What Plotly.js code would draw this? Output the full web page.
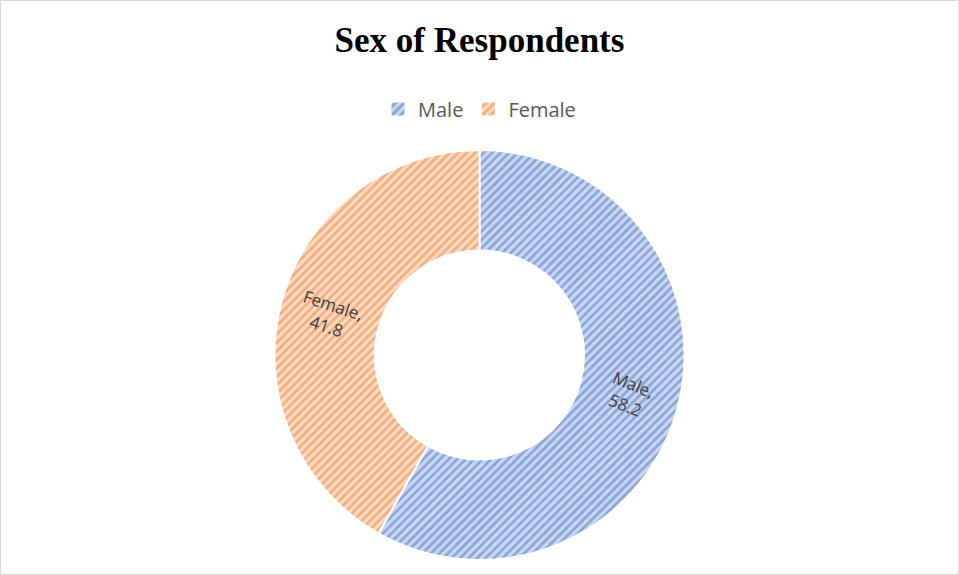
<!DOCTYPE html>
<html>
<head>
<meta charset="utf-8">
<script src="https://cdn.plot.ly/plotly-3.0.1.min.js"></script>
<style>
  html, body { margin: 0; padding: 0; background: #fff; }
  #wrap { position: relative; width: 959px; height: 575px; }
  #chart { width: 959px; height: 575px; }
  #frame { position: absolute; left: 0; top: 0; width: 957px; height: 573px; border: 1px solid #d9d9d9; pointer-events: none; }
</style>
</head>
<body>
<div id="wrap">
  <div id="chart"></div>
  <div id="frame"></div>
</div>
<script>
const categories = ["Male", "Female"];
const values = [58.2, 41.8];
const fgColors = ["#4472C4", "#ED7D31"];
const bgColors = ["#cbd7f0", "#fbdac3"];
const labelAngles = [22, 18];

const HOLE = 0.51;
const MARGIN = { l: 0, r: 0, t: 150, b: 15 };
const W = 959, H = 575;

const trace = {
  type: "pie",
  labels: categories,
  values: values,
  hole: HOLE,
  sort: false,
  direction: "clockwise",
  rotation: 0,
  textinfo: "none",
  hoverinfo: "none",
  marker: {
    colors: fgColors,
    line: { color: "#ffffff", width: 2 },
    pattern: {
      shape: "/",
      fgcolor: fgColors,
      bgcolor: bgColors,
      size: 6,
      solidity: 0.45,
      fillmode: "overlay"
    }
  },
  domain: { x: [0, 1], y: [0, 1] },
  automargin: false
};

const layout = {
  width: W,
  height: H,
  margin: MARGIN,
  paper_bgcolor: "#ffffff",
  title: {
    text: "<b>Sex of Respondents</b>",
    font: { family: "Liberation Serif, Times New Roman, serif", size: 35, color: "#000000" },
    x: 0.5, xanchor: "center",
    y: 1 - 40 / H, yanchor: "middle", yref: "container"
  },
  showlegend: true,
  legend: {
    orientation: "h",
    x: 0.5, xanchor: "center",
    y: 1 - 109 / H, yanchor: "middle", yref: "container",
    font: { family: "Open Sans, DejaVu Sans, sans-serif", size: 20, color: "#595959" },
    traceorder: "normal"
  }
};

Plotly.newPlot("chart", [trace], layout, { displayModeBar: false, staticPlot: true }).then(function (gd) {
  // place slice labels at the mid-radius of each slice, using the pie's own geometry
  const cd = gd.calcdata[0];
  const cx = cd[0].cx, cy = cd[0].cy, r = cd[0].r;
  const rMid = r * (1 + HOLE) / 2;
  const pw = W - MARGIN.l - MARGIN.r, ph = H - MARGIN.t - MARGIN.b;
  const anns = cd.map(function (pt, i) {
    const a = pt.midangle;
    const px = cx + rMid * Math.sin(a);
    const py = cy - rMid * Math.cos(a);
    return {
      xref: "paper", yref: "paper",
      x: (px - MARGIN.l) / pw,
      y: 1 - (py - MARGIN.t) / ph,
      xanchor: "center", yanchor: "middle",
      showarrow: false,
      text: categories[i] + ",<br>" + values[i].toFixed(1),
      textangle: labelAngles[i],
      font: { family: "Open Sans, DejaVu Sans, sans-serif", size: 17, color: "#404040" }
    };
  });
  return Plotly.relayout(gd, { annotations: anns });
}).then(function () {
  // enlarge legend swatches to match the reference's square keys
  document.querySelectorAll("#chart .legendpoints path").forEach(function (p) {
    p.setAttribute("d", "M7.5,7.5H-7.5V-7.5H7.5Z");
  });
});
</script>
</body>
</html>
